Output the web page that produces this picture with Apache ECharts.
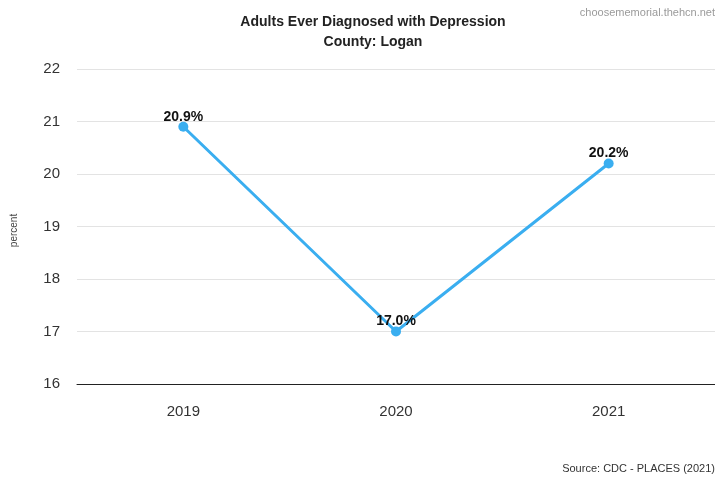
<!DOCTYPE html>
<html>
<head>
<meta charset="utf-8">
<script src="https://cdn.jsdelivr.net/npm/echarts@6/dist/echarts.min.js"></script>
<style>html,body{margin:0;padding:0;background:#fff}#c{width:715px;height:479px}</style>
</head>
<body>
<div id="c"></div>
<script>
var categories = ['2019', '2020', '2021'];
var values = [20.9, 17.0, 20.2];
var yTicks = [16, 17, 18, 19, 20, 21, 22];

var chart = echarts.init(document.getElementById('c'), null, {renderer: 'canvas'});
chart.setOption({
  animation: false,
  backgroundColor: '#ffffff',
  title: [{
    text: 'Adults Ever Diagnosed with Depression\nCounty: Logan',
    left: 368, top: 7, textAlign: 'center',
    textStyle: {fontFamily: 'Liberation Sans, Arial', fontSize: 14, fontWeight: 'bold', color: '#222', lineHeight: 20}
  }],
  graphic: [
    {type: 'text', right: 0, top: 7, style: {text: 'choosememorial.thehcn.net', fontFamily: 'Liberation Sans, Arial', fontSize: 11, fill: '#9a9a9a'}},
    {type: 'text', right: 0, top: 463, style: {text: 'Source: CDC - PLACES (2021)', fontFamily: 'Liberation Sans, Arial', fontSize: 11, fill: '#333'}}
  ],
  grid: {left: 77, right: 0, top: 69, bottom: 95, containLabel: false},
  xAxis: {
    type: 'category', data: categories, boundaryGap: true,
    axisLine: {lineStyle: {color: '#222', width: 1}},
    axisTick: {show: false},
    axisLabel: {fontFamily: 'Liberation Sans, Arial', fontSize: 15, color: '#333', margin: 20}
  },
  yAxis: {
    type: 'value', min: yTicks[0], max: yTicks[yTicks.length - 1], interval: 1,
    name: 'percent', nameLocation: 'middle', nameGap: 58,
    nameTextStyle: {fontFamily: 'Liberation Sans, Arial', fontSize: 10, color: '#444', padding: [0, 0, 0, -8]},
    axisLine: {show: false}, axisTick: {show: false},
    splitLine: {lineStyle: {color: '#e3e3e3', width: 1}},
    axisLabel: {fontFamily: 'Liberation Sans, Arial', fontSize: 15, color: '#333', margin: 17}
  },
  series: [{
    type: 'line', data: values,
    symbol: 'circle', symbolSize: 10,
    lineStyle: {color: '#3aaef0', width: 3},
    itemStyle: {color: '#3aaef0'},
    label: {show: true, position: 'top', distance: -2, formatter: function(p){return p.value.toFixed(1) + '%';},
      fontFamily: 'Liberation Sans, Arial', fontSize: 14, fontWeight: 'bold', color: '#111'}
  }]
});
</script>
</body>
</html>
